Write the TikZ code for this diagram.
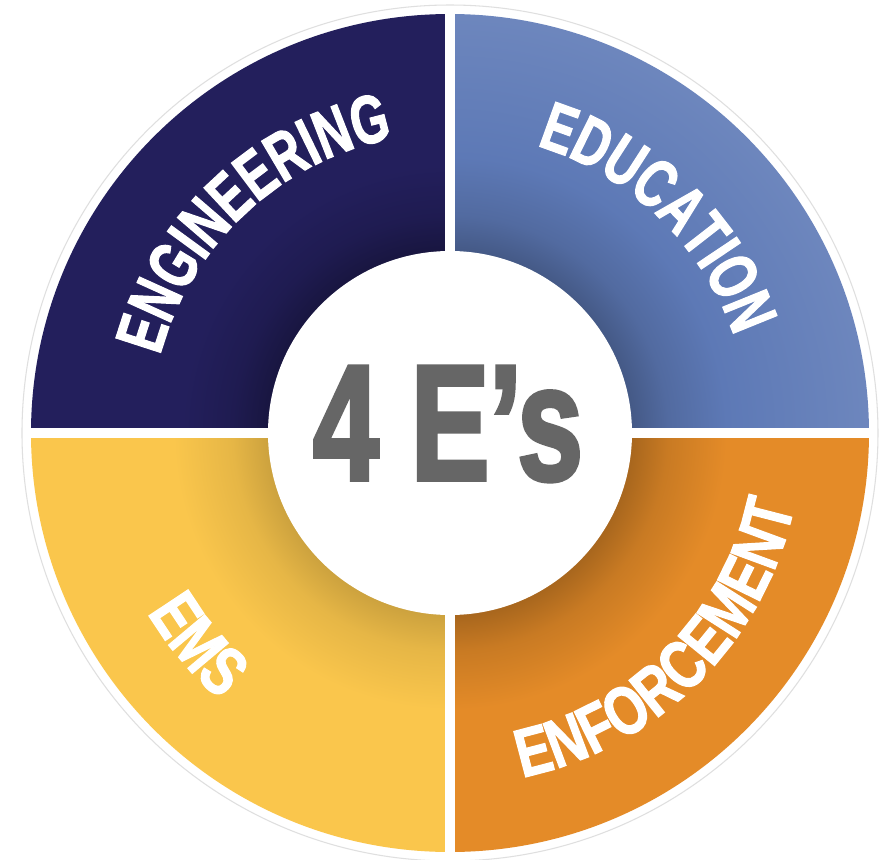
\documentclass[tikz,border=0pt]{standalone}
\usepackage{fontspec}
\usepackage{xcolor}
\usetikzlibrary{decorations.text}
\newfontfamily\topfont[FakeStretch=0.7,FakeBold=1.6]{Liberation Sans Bold}
\newfontfamily\botfont[FakeStretch=0.77,FakeBold=1.6]{Liberation Sans Bold}
\newfontfamily\hubface[FakeStretch=0.71,FakeBold=2.4]{Liberation Sans Bold}
\newcommand\toplab{\topfont\fontsize{39}{39}\selectfont}
\newcommand\botlab{\botfont\fontsize{39}{39}\selectfont}
\newcommand\hubfont{\hubface\fontsize{94}{94}\selectfont}
\definecolor{navy}{RGB}{35,31,92}
\definecolor{steel}{RGB}{93,121,182}
\definecolor{sun}{RGB}{250,198,76}
\definecolor{amber}{RGB}{228,139,40}
\definecolor{hubgray}{RGB}{102,102,102}
\pgfdeclareradialshading{navyring}{\pgfpointorigin}{color(0bp)=(navy!70!black); color(10.9bp)=(navy!70!black); color(13bp)=(navy!88!black); color(16bp)=(navy); color(25bp)=(navy); color(50bp)=(navy)}
\pgfdeclareradialshading{steelring}{\pgfpointorigin}{color(0bp)=(steel!74!black); color(10.9bp)=(steel!74!black); color(13bp)=(steel!88!black); color(16.5bp)=(steel); color(25bp)=(steel!90!white); color(50bp)=(steel!90!white)}
\pgfdeclareradialshading{sunring}{\pgfpointorigin}{color(0bp)=(sun!82!black); color(10.9bp)=(sun!82!black); color(13bp)=(sun!92!black); color(16.5bp)=(sun); color(25bp)=(sun); color(50bp)=(sun)}
\pgfdeclareradialshading{amberring}{\pgfpointorigin}{color(0bp)=(amber!74!black); color(10.9bp)=(amber!74!black); color(13bp)=(amber!88!black); color(16.5bp)=(amber); color(25bp)=(amber); color(50bp)=(amber)}
\tikzset{lab/.style={decorate, decoration={text along path, text align=center, text color=white, text={#1}}}}

\begin{document}
\begin{tikzpicture}[scale=0.02]
\fill[white] (-450,-426) rectangle (439,433); \useasboundingbox (-450,-426) rectangle (439,433);
\begin{scope} \clip (0,0) rectangle (-430,430); \shade[shading=navyring] (0,0) circle (419); \end{scope}
\begin{scope} \clip (0,0) rectangle (430,430); \shade[shading=steelring] (0,0) circle (419); \end{scope}
\begin{scope} \clip (0,0) rectangle (-430,-430); \shade[shading=sunring] (0,0) circle (419); \end{scope}
\begin{scope} \clip (0,0) rectangle (430,-430); \shade[shading=amberring] (0,0) circle (419); \end{scope}
\draw[white, line width=5.7pt] (0,-420) -- (0,420) (-420,0) -- (420,0);
\draw[gray!25, line width=0.6pt] (0,0) circle (428);
\fill[white] (0,0) circle (182);
\node[inner sep=0, text=hubgray, font=\hubfont] (hub) at (-2,9) {4 E’s};
\path[lab=|\toplab|ENGINEERING] (175:300) arc (175:91:300);
\path[lab=|\toplab|EDUCATION] (88:300) arc (88:4:300);
\path[lab=|\botlab|EMS] (185:352) arc (185:255:352);
\path[lab=|\botlab|ENFORCEMENT] (-100:352) arc (-100:10:352);
\end{tikzpicture}
\end{document}
